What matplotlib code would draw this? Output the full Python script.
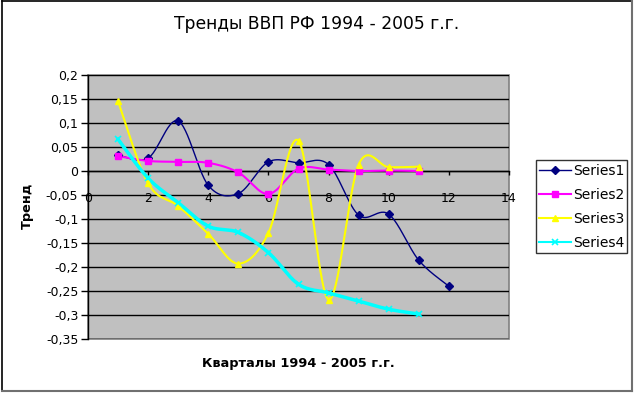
import numpy as np
import matplotlib
matplotlib.use("Agg")
import matplotlib.pyplot as plt
from matplotlib.ticker import FuncFormatter, MultipleLocator
from matplotlib.lines import Line2D
from matplotlib.patches import Rectangle

plt.rcParams['font.family'] = ['DejaVu Sans']

title = "Тренды ВВП РФ 1994 - 2005 г.г."
xlabel = "Кварталы 1994 - 2005 г.г."
ylabel = "Тренд"

x1 = [1, 2, 3, 4, 5, 6, 7, 8, 9, 10, 11, 12]
s1 = [0.033, 0.027, 0.104, -0.030, -0.047, 0.019, 0.017, 0.0135, -0.092, -0.090, -0.186, -0.240]
x2 = [1, 2, 3, 4, 5, 6, 7, 8, 9, 10, 11]
s2 = [0.031, 0.021, 0.019, 0.017, -0.003, -0.048, 0.005, 0.003, 0.0, 0.001, 0.0]
x3 = [1, 2, 3, 4, 5, 6, 7, 8, 9, 10, 11]
s3 = [0.145, -0.026, -0.073, -0.131, -0.193, -0.129, 0.063, -0.268, 0.0135, 0.008, 0.009]
x4 = [1, 2, 3, 4, 5, 6, 7, 8, 9, 10, 11]
s4 = [0.066, -0.015, -0.066, -0.115, -0.128, -0.170, -0.236, -0.254, -0.271, -0.288, -0.298]
names = ["Series1", "Series2", "Series3", "Series4"]


def smooth(xs, ys, n=30):
    P = np.column_stack([xs, ys]).astype(float)
    Pe = np.vstack([P[0], P, P[-1]])
    out = []
    t = np.linspace(0, 1, n)[:, None]
    for i in range(1, len(Pe) - 2):
        p0, p1, p2, p3 = Pe[i - 1], Pe[i], Pe[i + 1], Pe[i + 2]
        b1 = p1 + (p2 - p0) / 6.0
        b2 = p2 - (p3 - p1) / 6.0
        seg = ((1 - t) ** 3) * p1 + 3 * ((1 - t) ** 2) * t * b1 + 3 * (1 - t) * t ** 2 * b2 + t ** 3 * p2
        out.append(seg if i == 1 else seg[1:])
    c = np.vstack(out)
    return c[:, 0], c[:, 1]


W, H = 634, 394
fig = plt.figure(figsize=(W / 100, H / 100), dpi=100)
fig.patch.set_facecolor('white')
L, R, T, B = 88, 509, 75, 339
ax = fig.add_axes([L / W, 1 - B / H, (R - L) / W, (B - T) / H])
ax.set_facecolor('#C0C0C0')
ax.set_xlim(0, 14)
ax.set_ylim(-0.35, 0.2)

ax.yaxis.set_major_locator(MultipleLocator(0.05))
ax.xaxis.set_major_locator(MultipleLocator(2))


def fmt(v, pos):
    v = round(v, 4)
    if abs(v) < 1e-9:
        return "0"
    return ("%g" % v).replace('.', ',')


ax.yaxis.set_major_formatter(FuncFormatter(fmt))
ax.xaxis.set_major_formatter(FuncFormatter(fmt))
ax.grid(axis='y', color='black', lw=1.0)
ax.set_axisbelow(True)

for s in ['top', 'right']:
    ax.spines[s].set_visible(False)
ax.spines['bottom'].set_position(('data', 0))
ax.spines['bottom'].set_color('black')
ax.spines['bottom'].set_linewidth(1.0)
ax.spines['left'].set_color('black')
ax.spines['left'].set_linewidth(1.0)
ax.add_patch(Rectangle((0, 0), 1, 1, transform=ax.transAxes, fill=False,
                       edgecolor='#808080', lw=1.2, zorder=0.5, clip_on=False))

ax.tick_params(axis='y', direction='out', length=5, width=1, labelsize=9, pad=2)
ax.tick_params(axis='x', direction='out', length=3, width=1, labelsize=9, pad=12)

series = [
    (x1, s1, '#000080', 1.0, 'D', 4, 1.0),
    (x2, s2, '#FF00FF', 1.5, 's', 5, 1.0),
    (x3, s3, '#FFFF00', 1.5, '^', 5, 1.0),
    (x4, s4, '#00FFFF', 2.5, 'x', 5, 1.2),
]
handles = []
for (xs, ys, col, lw, mk, ms, mew), nm in zip(series, names):
    sx, sy = smooth(xs, ys)
    ax.plot(sx, sy, color=col, lw=lw, zorder=3)
    ax.plot(xs, ys, linestyle='none', marker=mk, ms=ms, color=col, mec=col, mew=mew, zorder=4)
    handles.append(Line2D([], [], color=col, lw=min(lw, 1.5), marker=mk, ms=ms, mec=col, mew=mew))

fig.text(317 / W, 1 - 24 / H, title, fontsize=12.3, ha='center', va='center')
fig.text((L + R) / 2 / W, 1 - 363 / H, xlabel, fontsize=9.3, fontweight='bold', ha='center', va='center')
fig.text(27 / W, 1 - 206 / H, ylabel, fontsize=9.3, fontweight='bold', ha='center', va='center', rotation=90)

leg = fig.legend(handles, names, loc='center right', bbox_to_anchor=(627.5 / W, 1 - 206.5 / H),
                 fontsize=10, frameon=True, fancybox=False, edgecolor='black',
                 handlelength=2.3, handletextpad=0.1, borderpad=0.25, labelspacing=0.72,
                 borderaxespad=0)
leg.get_frame().set_linewidth(1.0)

# outer chart frame
fig.add_artist(Line2D([1.5 / W, 1.5 / W], [1 - 0.5 / H, 1 - 391 / H], color='black', lw=1.2))
fig.add_artist(Line2D([1.5 / W, 632 / W], [1 - 0.5 / H, 1 - 0.5 / H], color='black', lw=1.2))
fig.add_artist(Line2D([632 / W, 632 / W], [1 - 0.5 / H, 1 - 391 / H], color='#707070', lw=1.5))
fig.add_artist(Line2D([1.5 / W, 632 / W], [1 - 391 / H, 1 - 391 / H], color='#707070', lw=1.5))

fig.savefig("out.png", dpi=100)
